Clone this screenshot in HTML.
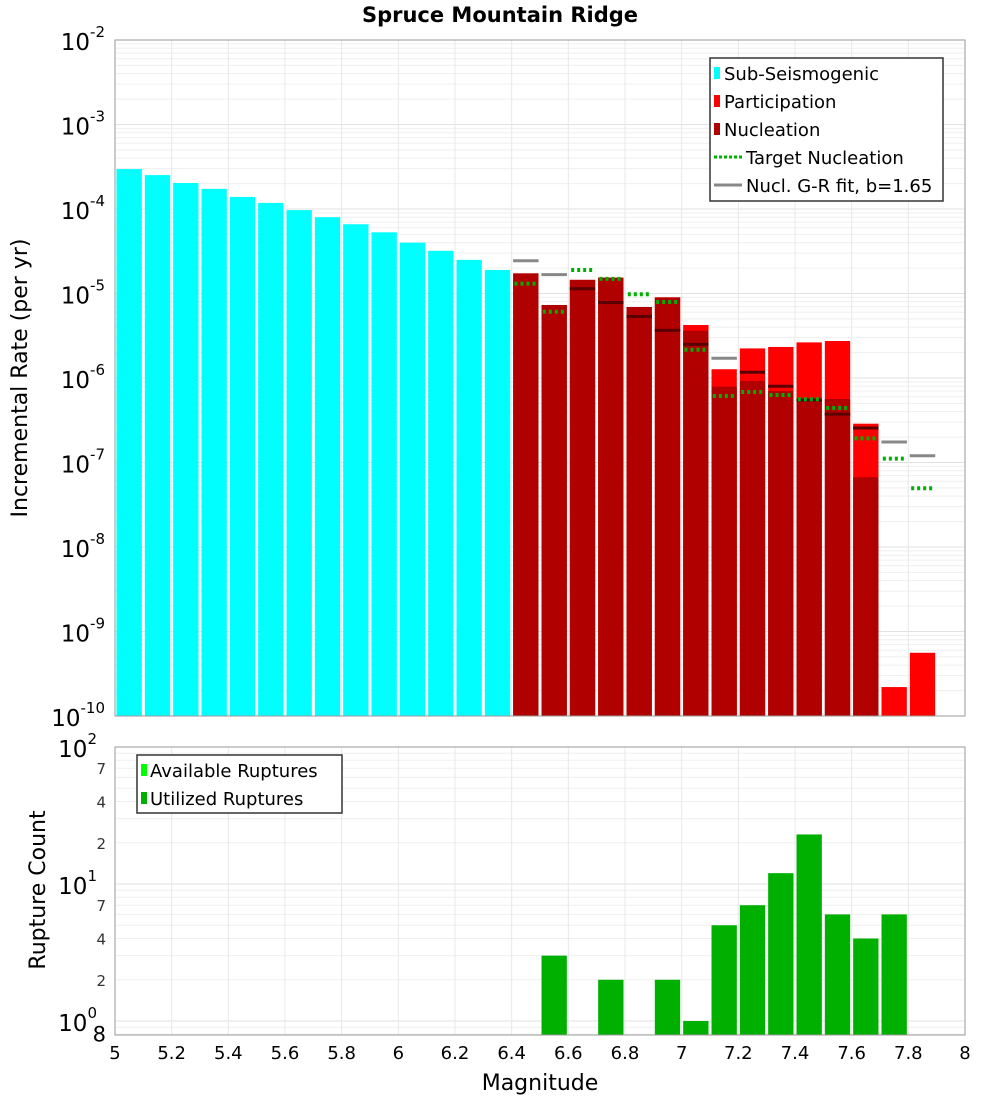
<!DOCTYPE html>
<html><head><meta charset="utf-8"><style>
body{margin:0;background:#fff;font-family:"Liberation Sans","DejaVu Sans",sans-serif;}
svg text{font-family:"DejaVu Sans","Liberation Sans",sans-serif;}
</style></head><body>
<svg id="c" width="1000" height="1100" xmlns="http://www.w3.org/2000/svg"></svg>
<script>
const subMags=[5.05,5.15,5.25,5.35,5.45,5.55,5.65,5.75,5.85,5.95,6.05,6.15,6.25,6.35];
const subRates=[2.97e-4,2.52e-4,2.03e-4,1.73e-4,1.39e-4,1.18e-4,9.7e-5,8.0e-5,6.6e-5,5.3e-5,4.0e-5,3.2e-5,2.5e-5,1.9e-5];
const supMags=[6.45,6.55,6.65,6.75,6.85,6.95,7.05,7.15,7.25,7.35,7.45,7.55,7.65,7.75,7.85];
const partRates=[1.73e-5,7.31e-6,1.45e-5,1.54e-5,6.92e-6,9.0e-6,4.24e-6,1.27e-6,2.24e-6,2.33e-6,2.64e-6,2.74e-6,2.88e-7,2.2e-10,5.6e-10];
const nuclRates=[1.73e-5,7.31e-6,1.45e-5,1.54e-5,6.92e-6,9.0e-6,3.63e-6,7.88e-7,9.2e-7,7.0e-7,5.75e-7,5.64e-7,6.7e-8,0,0];
const targetRates=[1.31e-5,6.09e-6,1.9e-5,1.49e-5,9.8e-6,7.93e-6,2.16e-6,6.12e-7,6.83e-7,6.3e-7,5.6e-7,4.42e-7,1.93e-7,1.11e-7,4.95e-8];
const grRates=[2.44e-5,1.67e-5,1.14e-5,7.82e-6,5.35e-6,3.66e-6,2.5e-6,1.71e-6,1.17e-6,8.0e-7,5.47e-7,3.74e-7,2.56e-7,1.75e-7,1.2e-7];
const cntMags=[6.55,6.75,6.95,7.05,7.15,7.25,7.35,7.45,7.55,7.65,7.75];
const cntVals=[3,2,2,1,5,7,12,23,6,4,6];
const xTicks=[5,5.2,5.4,5.6,5.8,6,6.2,6.4,6.6,6.8,7,7.2,7.4,7.6,7.8,8];
const topExps=[-2,-3,-4,-5,-6,-7,-8,-9,-10];

const S=document.getElementById('c'),NS='http://www.w3.org/2000/svg';
function mk(t,a,p){const e=document.createElementNS(NS,t);for(const k in a)e.setAttribute(k,a[k]);(p||S).appendChild(e);return e;}
const X0=115,X1=965,T0=40,T1=716,B0=747,B1=1035;
const xs=m=>X0+(m-5)/3*(X1-X0);
const yT=v=>T0+(-2-Math.log10(v))*84.5;
const yB=v=>B0+(2-Math.log10(v))*137;

// title
let t=mk('text',{x:500,y:22,'text-anchor':'middle','font-size':21,'font-weight':'bold'});t.textContent='Spruce Mountain Ridge';


// plot backgrounds & grids
function grid(y0,y1,yf,lo,hi,name){
  const g=mk('g',{});
  for(let e=lo;e<hi;e++)for(let k=1;k<10;k++){const y=yf(k*Math.pow(10,e));if(y>=y0&&y<=y1)mk('line',{x1:X0,x2:X1,y1:y,y2:y,stroke:k==1?'#e2e2e2':'#efefef','stroke-width':1},g);}
  xTicks.forEach(m=>mk('line',{x1:xs(m),x2:xs(m),y1:y0,y2:y1,stroke:'#e8e8e8'},g));
}
grid(T0,T1,yT,-10,-1,'top-grid');
grid(B0,B1,yB,-1,3,'bottom-grid');

// top bars
subMags.forEach((m,i)=>{const y=yT(subRates[i]);const r=mk('rect',{x:xs(m-0.05)+1.5,y:y,width:xs(m+0.05)-xs(m-0.05)-3,height:T1-y,fill:'#00ffff'});
});
supMags.forEach((m,i)=>{const xa=xs(m-0.05)+1.5,w=xs(m+0.05)-xs(m-0.05)-3;
 if(partRates[i]>0){const y=yT(partRates[i]);const r=mk('rect',{x:xa,y:y,width:w,height:T1-y,fill:'#ff0000'});
 }
 if(nuclRates[i]>0){const y=yT(nuclRates[i]);const r=mk('rect',{x:xa,y:y,width:w,height:T1-y,fill:'#b00000'});
 }
});
supMags.forEach((m,i)=>{const y=yT(grRates[i]);const inside=grRates[i]<partRates[i];
 const l=mk('line',{x1:xs(m-0.045),x2:xs(m+0.045),y1:y,y2:y,stroke:inside?'#5a0000':'#888','stroke-width':3});
 
 const y2=yT(targetRates[i]);
 const d=mk('line',{x1:xs(m-0.04),x2:xs(m+0.04),y1:y2,y2:y2,stroke:'#00b000','stroke-width':4,'stroke-dasharray':'3,3'});
 
});
// bottom bars
cntMags.forEach((m,i)=>{const y=yB(cntVals[i]);const r=mk('rect',{x:xs(m-0.05)+1.5,y:y,width:xs(m+0.05)-xs(m-0.05)-3,height:B1-y,fill:'#00b000'});
});

// frames
mk('rect',{x:X0,y:T0,width:X1-X0,height:T1-T0,fill:'none',stroke:'#999'});
mk('rect',{x:X0,y:B0,width:X1-X0,height:B1-B0,fill:'none',stroke:'#999'});

// y labels top
topExps.forEach(e=>{const y=yT(Math.pow(10,e));const g=mk('text',{x:105,y:y+10,'text-anchor':'end','font-size':23});
 g.innerHTML='10<tspan dy="-13" font-size="15">'+e+'</tspan>';});
// y labels bottom
[[100,'2'],[10,'1'],[1,'0']].forEach(([v,e])=>{const y=yB(v);const g=mk('text',{x:97,y:y+10,'text-anchor':'end','font-size':23});
 g.innerHTML='10<tspan dy="-13" font-size="15">'+e+'</tspan>';});
[70,40,20,7,4,2].forEach(v=>{const g=mk('text',{x:106,y:yB(v)+6,'text-anchor':'end','font-size':15,fill:'#333'});g.textContent=String(v).charAt(0);
 });
t=mk('text',{x:106,y:yB(0.8)+7,'text-anchor':'end','font-size':21});t.textContent='8';
// x labels
xTicks.forEach(m=>{const g=mk('text',{x:xs(m),y:1059,'text-anchor':'middle','font-size':18});g.textContent=String(m);
 });
t=mk('text',{x:540,y:1090,'text-anchor':'middle','font-size':22});t.textContent='Magnitude';

t=mk('text',{x:0,y:0,'text-anchor':'middle','font-size':22,transform:'translate(27,378) rotate(-90)'});t.textContent='Incremental Rate (per yr)';

t=mk('text',{x:0,y:0,'text-anchor':'middle','font-size':22,transform:'translate(45,890) rotate(-90)'});t.textContent='Rupture Count';


// legends
let lg=mk('g',{});
mk('rect',{x:710,y:58,width:233,height:143,fill:'#fff',stroke:'#333','stroke-width':1.5},lg);
[['Sub-Seismogenic','#00ffff','box'],['Participation','#ff0000','box'],['Nucleation','#b00000','box'],['Target Nucleation','#00b000','dash'],['Nucl. G-R fit, b=1.65','#888','line']].forEach((e,i)=>{
 const y=73+i*28;
 if(e[2]=='box'){mk('rect',{x:714,y:y-6,width:6,height:12,fill:e[1]},lg);const q=mk('text',{x:724,y:y+7,'font-size':18},lg);q.textContent=e[0];}
 else{mk('line',{x1:714,x2:742,y1:y,y2:y,stroke:e[1],'stroke-width':3,'stroke-dasharray':e[2]=='dash'?'3,2':'none'},lg);const q=mk('text',{x:746,y:y+7,'font-size':18},lg);q.textContent=e[0];}
});
lg=mk('g',{});
mk('rect',{x:137,y:755,width:205,height:58,fill:'#fff',stroke:'#333','stroke-width':1.5},lg);
[['Available Ruptures','#00ff00'],['Utilized Ruptures','#00b000']].forEach((e,i)=>{const y=770+i*28;
 mk('rect',{x:141,y:y-6,width:6,height:12,fill:e[1]},lg);const q=mk('text',{x:150,y:y+7,'font-size':18},lg);q.textContent=e[0];});
</script>
</body></html>
